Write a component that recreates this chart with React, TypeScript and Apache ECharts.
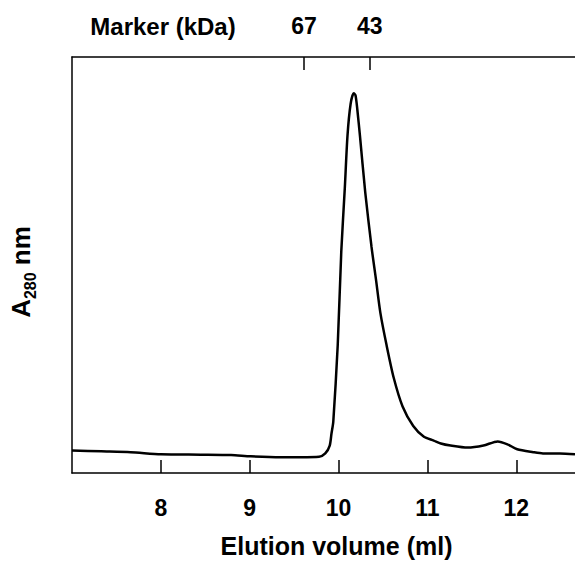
import React, { useEffect, useRef } from "react";
import * as echarts from "echarts";

// Elution volume (ml) and absorbance (arbitrary units, 0..1 of the plot height)
const elutionVolume = [
  7.0, 7.33, 7.66, 8.0, 8.45, 8.79, 9.01, 9.35, 9.57, 9.78, 9.85, 9.9, 9.92, 9.94,
  9.99, 10.03, 10.07, 10.1, 10.135, 10.17, 10.19, 10.21, 10.24, 10.3, 10.37, 10.42,
  10.47, 10.54, 10.62, 10.72, 10.84, 10.96, 11.07, 11.15, 11.26, 11.45, 11.63,
  11.79, 11.9, 12.01, 12.19, 12.3, 12.49, 12.66,
];
const absorbance = [
  0.054, 0.052, 0.05, 0.045, 0.044, 0.043, 0.04, 0.038, 0.038, 0.039, 0.047, 0.066,
  0.095, 0.123, 0.307, 0.532, 0.686, 0.811, 0.887, 0.913, 0.908, 0.875, 0.811,
  0.674, 0.544, 0.466, 0.385, 0.307, 0.229, 0.16, 0.113, 0.087, 0.078, 0.071,
  0.066, 0.061, 0.066, 0.076, 0.069, 0.057, 0.05, 0.047, 0.047, 0.045,
];
const xTicks = [8, 9, 10, 11, 12];
const markerPositions = [9.61, 10.35];
const markerLabels = ["67", "43"];
const markerTitle = "Marker (kDa)";
const xName = "Elution volume (ml)";

const FONT = "'Liberation Sans', Arial, Helvetica, sans-serif";

export default function App() {
  const ref = useRef<HTMLDivElement>(null);
  useEffect(() => {
    if (!ref.current) return;
    const chart = echarts.init(ref.current, null, { renderer: "svg" });
    const axisLine = { show: true, lineStyle: { color: "#000", width: 1.5 } };
    chart.setOption({
      animation: false,
      backgroundColor: "#fff",
      grid: { left: 71, right: 0, top: 57, bottom: 83 },
      xAxis: [
        {
          type: "value",
          min: 7,
          max: 12.66,
          position: "bottom",
          axisLine,
          splitLine: { show: false },
          axisTick: {
            show: true,
            inside: true,
            length: 13,
            customValues: xTicks,
            lineStyle: { color: "#000", width: 1.5 },
          },
          axisLabel: {
            customValues: xTicks,
            margin: 23,
            color: "#000",
            fontFamily: FONT,
            fontWeight: "bold",
            fontSize: 23,
          },
          name: xName,
          nameLocation: "middle",
          nameGap: 60,
          nameTextStyle: {
            color: "#000",
            fontFamily: FONT,
            fontWeight: "bold",
            fontSize: 25,
            padding: [0, 0, 0, 26],
          },
        },
        {
          type: "value",
          min: 7,
          max: 12.66,
          position: "top",
          axisLine,
          splitLine: { show: false },
          axisTick: {
            show: true,
            inside: true,
            length: 13,
            customValues: markerPositions,
            lineStyle: { color: "#000", width: 1.5 },
          },
          axisLabel: {
            customValues: markerPositions,
            margin: 20,
            color: "#000",
            fontFamily: FONT,
            fontWeight: "bold",
            fontSize: 23,
            formatter: (v: number) => {
              const i = markerPositions.findIndex((p) => Math.abs(p - v) < 1e-6);
              return i >= 0 ? markerLabels[i] : "";
            },
          },
        },
      ],
      yAxis: {
        type: "value",
        min: 0,
        max: 1,
        axisLine,
        axisTick: { show: false },
        axisLabel: { show: false },
        splitLine: { show: false },
        name: "{a|A}{b|280}{a| nm}",
        nameLocation: "middle",
        nameGap: 34,
        nameRotate: 90,
        nameTextStyle: {
          color: "#000",
          fontFamily: FONT,
          fontWeight: "bold",
          padding: [0, 14, 0, 0],
          rich: {
            a: { fontFamily: FONT, fontWeight: "bold", fontSize: 26, lineHeight: 34, color: "#000" },
            b: {
              fontFamily: FONT,
              fontWeight: "bold",
              fontSize: 16,
              lineHeight: 16,
              verticalAlign: "bottom",
              color: "#000",
            },
          },
        },
      },
      graphic: [
        {
          type: "text",
          x: 163,
          y: 26,
          style: {
            text: markerTitle,
            fill: "#000",
            font: `bold 24px ${FONT}`,
            align: "center",
            verticalAlign: "middle",
          },
        },
      ],
      series: [
        {
          type: "line",
          data: elutionVolume.map((x, i) => [x, absorbance[i]]),
          showSymbol: false,
          smooth: 0.25,
          lineStyle: { color: "#000", width: 2.5 },
          xAxisIndex: 0,
        },
      ],
    });
    return () => chart.dispose();
  }, []);
  return (
    <div
      ref={ref}
      style={{ position: "absolute", left: 0, top: 0, width: 575, height: 563 }}
    />
  );
}
